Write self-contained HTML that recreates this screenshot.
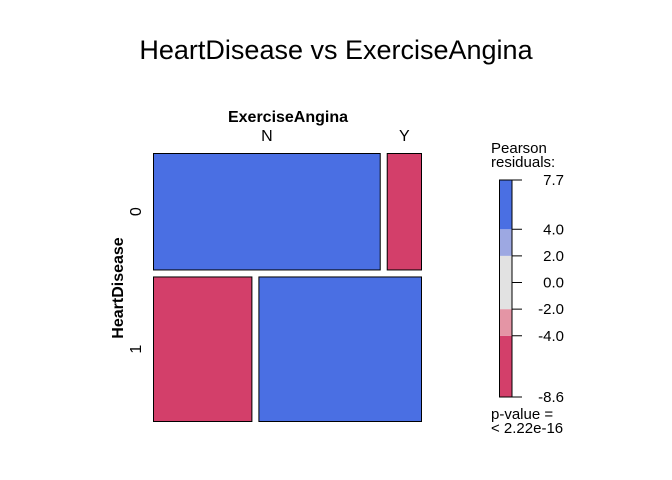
<!DOCTYPE html>
<html><head><meta charset="utf-8"><style>
body{margin:0;background:#fff}
svg{display:block;font-family:"Liberation Sans",Arial,sans-serif}
</style></head><body>
<svg id="chart" width="672" height="480">
<rect width="672" height="480" fill="#fff"/>
<text x="336" y="59" font-size="27" text-anchor="middle">HeartDisease vs ExerciseAngina</text>
<text x="288" y="122" font-size="16" font-weight="bold" text-anchor="middle">ExerciseAngina</text>
<text x="0" y="0" font-size="16" font-weight="bold" text-anchor="middle" transform="translate(123,288) rotate(-90)">HeartDisease</text>
<g id="marks"></g>
<g id="legend"></g>
</svg>
<script>
const rowLabels = ["0","1"];
const colLabels = ["N","Y"];
const counts = [[355,55],[192,316]];
const legendTicks = [7.7,4.0,2.0,0.0,-2.0,-4.0,-8.6];
const legendBreaks = [-8.6,-4,-2,2,4,7.7];
const legendColors = ["#D33F6A","#E495A5","#E2E2E2","#9DA8E2","#4A6FE3"];

const NS="http://www.w3.org/2000/svg";
function mk(tag,attrs,parent){const e=document.createElementNS(NS,tag);for(const k in attrs)e.setAttribute(k,attrs[k]);parent.appendChild(e);return e;}
const marks=document.getElementById('marks'), legend=document.getElementById('legend');
const X0=153,X1=422,Y0=153,Y1=422,GAP=6;
const total=counts.flat().reduce((a,b)=>a+b,0);
const rowT=counts.map(r=>r[0]+r[1]);
const colT=[0,1].map(j=>counts[0][j]+counts[1][j]);
function colorFor(r){if(r>4)return legendColors[4];if(r>2)return legendColors[3];if(r>=-2)return legendColors[2];if(r>=-4)return legendColors[1];return legendColors[0];}
const H=Y1-Y0-GAP*(rowLabels.length-1);
let y=Y0;
rowLabels.forEach((rl,i)=>{
  const h=rowT[i]/total*H;
  const W=X1-X0-GAP*(colLabels.length-1);
  let x=X0;
  colLabels.forEach((cl,j)=>{
    const w=counts[i][j]/rowT[i]*W;
    const exp=rowT[i]*colT[j]/total;
    const res=(counts[i][j]-exp)/Math.sqrt(exp);
    const r=mk('rect',{x:x+0.5,y:y+0.5,width:w-1,height:h-1,fill:colorFor(res),stroke:'#000','stroke-width':1},marks);
    
    
    if(i===0){
      const t=mk('text',{x:x+w/2,y:141,'font-size':16,'text-anchor':'middle'},marks);
      t.textContent=cl;
      
      
    }
    x+=w+GAP;
  });
  const t=mk('text',{x:0,y:0,'font-size':16,'text-anchor':'middle',transform:`translate(141,${y+h/2}) rotate(-90)`},marks);
  t.textContent=rl;
  
  
  y+=h+GAP;
});
// legend
const LT=180,LB=397,vmax=7.7,vmin=-8.6;
const ly=v=>LT+(vmax-v)/(vmax-vmin)*(LB-LT);
for(let k=0;k<legendColors.length;k++){
  const r=mk('rect',{x:499,y:ly(legendBreaks[k+1]),width:13,height:ly(legendBreaks[k])-ly(legendBreaks[k+1]),fill:legendColors[k]},legend);
  
  
}
const b=mk('rect',{x:499.5,y:LT,width:12.5,height:LB-LT,fill:'none',stroke:'#000','stroke-width':1},legend);


legendTicks.forEach(v=>{
  const l=mk('line',{x1:512,x2:522,y1:ly(v),y2:ly(v),stroke:'#000'},legend);
  
  
  const t=mk('text',{x:564,y:ly(v)+5,'font-size':15,'text-anchor':'end'},legend);
  t.textContent=v.toFixed(1);
  
  
});
[["Pearson",153],["residuals:",167],["p-value =",419],["< 2.22e-16",433]].forEach(([s,yy],i)=>{
  const t=mk('text',{x:491,y:yy,'font-size':15},legend);
  t.textContent=s;
  
  
});
</script>
</body></html>
